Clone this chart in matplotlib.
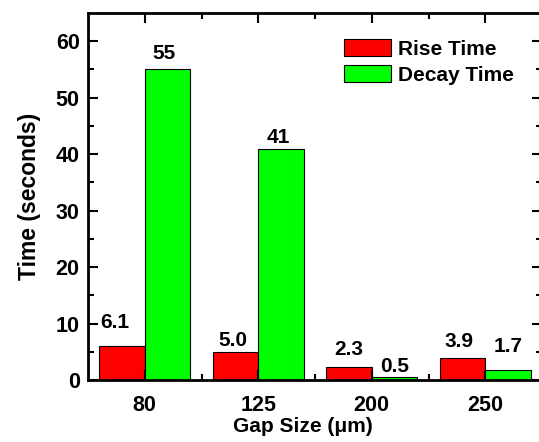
import matplotlib
matplotlib.use('Agg')
import matplotlib.pyplot as plt
import matplotlib.transforms as mtransforms
import numpy as np

plt.rcParams['font.family'] = ['Liberation Sans', 'DejaVu Sans']
plt.rcParams['font.weight'] = 'bold'

# data
gap_sizes = ['80', '125', '200', '250']
rise_time = [6.1, 5.0, 2.3, 3.9]
decay_time = [55, 41, 0.5, 1.7]
rise_labels = ['6.1', '5.0', '2.3', '3.9']
decay_labels = ['55', '41', '0.5', '1.7']

# hand placed label nudges (pixels), like the original
rise_dx = [-7, -3, 0, -4]
rise_dy = [18, 6, 12, 11]
decay_dx = [-3, -3, 0, 0]
decay_dy = [10, 6, 5, 18]
tick_dx = [-11, -3, -11, -8]

fig = plt.figure(figsize=(5.39, 4.42), dpi=100)
ax = fig.add_axes([88 / 539, 62 / 442, (542 - 88) / 539, (380 - 13) / 442])

x = np.arange(len(gap_sizes))
w = 0.4
ax.bar(x - w / 2, rise_time, w, color='#ff0000', edgecolor='black', linewidth=0.8, label='Rise Time')
ax.bar(x + w / 2, decay_time, w, color='#00ff00', edgecolor='black', linewidth=0.8, label='Decay Time')

for i in range(len(x)):
    ax.annotate(rise_labels[i], (x[i] - w / 2, rise_time[i]), xytext=(rise_dx[i], rise_dy[i]),
                textcoords='offset pixels', ha='center', va='baseline', fontsize=15, fontweight='bold')
    ax.annotate(decay_labels[i], (x[i] + w / 2, decay_time[i]), xytext=(decay_dx[i], decay_dy[i]),
                textcoords='offset pixels', ha='center', va='baseline', fontsize=15, fontweight='bold')

ax.set_xlim(-0.5, 3.5)
ax.set_ylim(0, 65)
ax.set_xticks(x)
ax.set_xticklabels(gap_sizes)
ax.set_xticks(x[:-1] + 0.5, minor=True)
ax.set_yticks(np.arange(0, 61, 10))
ax.set_yticks(np.arange(5, 65, 10), minor=True)

for lab, dx in zip(ax.get_xticklabels(), tick_dx):
    lab.set_transform(lab.get_transform() + mtransforms.ScaledTranslation(dx / 100, 0, fig.dpi_scale_trans))

ax.tick_params(which='both', direction='in', top=True, right=True, width=1.5, labelsize=15.5)
ax.tick_params(which='major', length=7)
ax.tick_params(which='minor', length=4)
ax.tick_params(axis='x', pad=11)
ax.tick_params(axis='y', pad=6)
for s in ax.spines.values():
    s.set_linewidth(2)

ax.set_xlabel('Gap Size (μm)', fontsize=15, fontweight='bold', labelpad=4)
ax.xaxis.set_label_coords(0.473, -0.1)
ax.set_ylabel('Time (seconds)', fontsize=16.5, fontweight='bold')
ax.yaxis.set_label_coords(-0.103, 0.5)

ax.legend(loc='upper right', bbox_to_anchor=(0.965, 0.963), frameon=False, fontsize=15,
          handlelength=2.3, handleheight=0.87, handletextpad=0.3, labelspacing=0.3, borderaxespad=0.2)

fig.savefig('out.png', dpi=100)
